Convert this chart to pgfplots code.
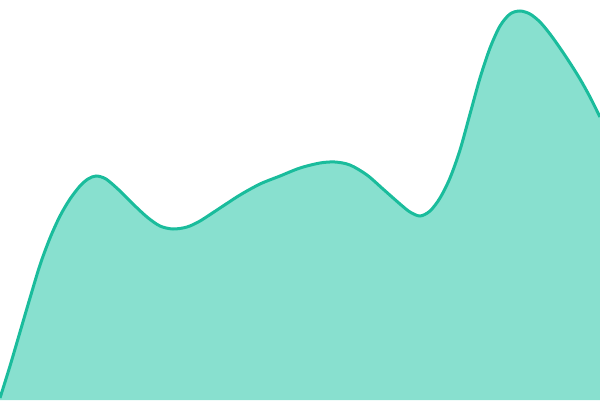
\documentclass[border=0pt]{standalone}
\usepackage{pgfplots}
\usepackage{pgfplotstable}
\pgfplotsset{compat=1.18}
\definecolor{lineC}{HTML}{1ABC9C}
\definecolor{fillC}{HTML}{88E0CF}
\pgfplotstableread{
x y
0 2
10 34
20 68
30 102
40 135
50 162
60 184
70 201
80 214
88 221
96 224
106 221
120 209
133 196
147 183
160 174
173 171
187 173
200 179
220 192
240 205
260 216
280 224
300 232
320 237
335 238
350 235
367 225
383 211
400 196
410 188
420 184
430 189
440 202
450 222
460 250
470 286
480 322
490 352
500 374
510 386
520 389
530 386
540 378
550 366
560 352
570 337
580 321
590 303
600 283
}\curve
\begin{document}
\begin{tikzpicture}
\begin{axis}[
  scale only axis, width=600pt, height=400pt,
  xmin=0, xmax=600, ymin=0, ymax=400,
  hide axis, clip=true,
]
\addplot[smooth, tension=0.5, draw=none, fill=fillC] table {\curve} \closedcycle;
\addplot[smooth, tension=0.5, draw=lineC, line width=3pt] table {\curve};
\end{axis}
\pgfresetboundingbox
\path (current axis.south west) rectangle (current axis.north east);
\end{tikzpicture}
\end{document}
